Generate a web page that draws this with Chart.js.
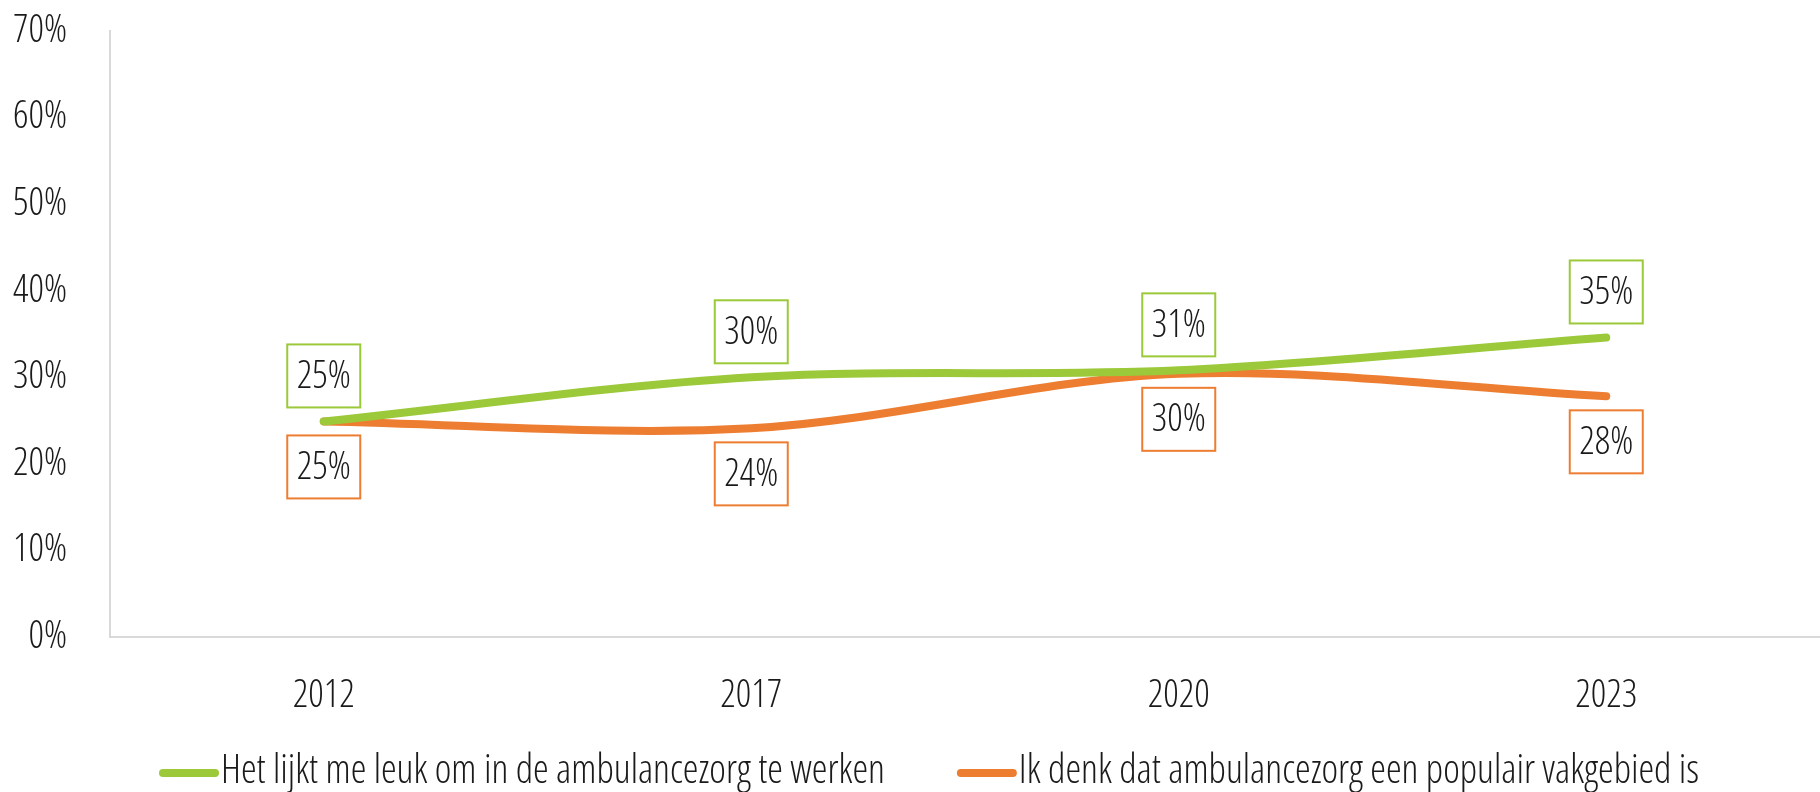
<!DOCTYPE html>
<html>
<head>
<meta charset="utf-8">
<script src="https://cdn.jsdelivr.net/npm/chart.js@4"></script>
<style>
    body { margin: 0; background: #fff; }
    .chart-box { width: 1820px; height: 792px; }
</style>
</head>
<body>
<div class="chart-box"><canvas id="myChart"></canvas></div>
<script>
const years = ['2012', '2017', '2020', '2023'];
const leukValues = [24.9, 30.0, 30.8, 34.6];
const populairValues = [24.9, 24.1, 30.4, 27.8];
const seriesNames = [
    'Het lijkt me leuk om in de ambulancezorg te werken',
    'Ik denk dat ambulancezorg een populair vakgebied is',
];
const yTicks = [0, 10, 20, 30, 40, 50, 60, 70];

const green = '#9bc93a';
const orange = '#ed7d31';
const fontFamily = '"Open Sans"';
const fontWeight = 'condensed 300';
const fontSize = 38;
const fontString = fontWeight + ' ' + fontSize + 'px ' + fontFamily;
const legendFont = fontWeight + ' 39.6px ' + fontFamily;

// boxed value labels, green above the line, orange below
const valueBoxes = {
    id: 'valueBoxes',
    afterDatasetsDraw(chart) {
        const ctx = chart.ctx;
        const w = 73, h = 63, gap = 14;
        ctx.save();
        ctx.font = fontString;
        ctx.textAlign = 'center';
        ctx.textBaseline = 'middle';
        chart.data.datasets.forEach((ds, i) => {
            const meta = chart.getDatasetMeta(i);
            meta.data.forEach((pt, j) => {
                const top = ds.labelSide === 'above' ? pt.y - gap - h : pt.y + gap;
                const left = pt.x - w / 2;
                ctx.fillStyle = '#fff';
                ctx.fillRect(left, top, w, h);
                ctx.strokeStyle = ds.borderColor;
                ctx.lineWidth = 2;
                ctx.strokeRect(left, top, w, h);
                ctx.fillStyle = '#1a1a1a';
                ctx.fillText(Math.round(ds.data[j]) + '%', pt.x, top + h / 2 + 1);
            });
        });
        ctx.restore();
    }
};

// legend with long rounded line markers
const lineLegend = {
    id: 'lineLegend',
    afterDraw(chart) {
        const ctx = chart.ctx;
        const lineLen = 60, textGap = 2, itemGap = 72, y = 772;
        let x = 159;
        ctx.save();
        ctx.font = legendFont;
        chart.data.datasets.forEach(ds => {
            ctx.strokeStyle = ds.borderColor;
            ctx.lineWidth = 8;
            ctx.lineCap = 'round';
            ctx.beginPath();
            ctx.moveTo(x + 4, y + 1);
            ctx.lineTo(x + lineLen - 4, y + 1);
            ctx.stroke();
            ctx.fillStyle = '#1a1a1a';
            ctx.textAlign = 'left';
            ctx.textBaseline = 'middle';
            ctx.fillText(ds.label, x + lineLen + textGap, y);
            x += lineLen + textGap + ctx.measureText(ds.label).width + itemGap;
        });
        ctx.restore();
    }
};

const data = {
    labels: years,
    datasets: [{
        label: seriesNames[0],
        data: leukValues,
        borderColor: green,
        backgroundColor: green,
        labelSide: 'above',
    },
        {
            label: seriesNames[1],
            data: populairValues,
            borderColor: orange,
            backgroundColor: orange,
            labelSide: 'below',
        }
    ]
};

const config = {
    type: 'line',
    data: data,
    options: {
        responsive: true,
        maintainAspectRatio: false,
        animation: false,
        layout: {
            autoPadding: false,
            // plot area runs a little past the right edge, like the original
            padding: {top: 31, right: -11, bottom: 72, left: 0}
        },
        elements: {
            line: {
                borderWidth: 8,
                borderCapStyle: 'round',
                borderJoinStyle: 'round',
                tension: 0.33,
                fill: false,
            },
            point: {
                radius: 0,
                hoverRadius: 0,
            }
        },
        scales: {
            x: {
                offset: true,
                grid: {
                    display: false,
                    drawTicks: false,
                },
                border: {
                    display: true,
                    color: '#d9d9d9',
                    width: 2,
                },
                ticks: {
                    color: '#1a1a1a',
                    padding: 36,
                    font: {family: fontFamily, weight: fontWeight, size: fontSize},
                },
                afterFit(scale) {
                    scale.height = 83;
                }
            },
            y: {
                min: 0,
                max: 70,
                afterBuildTicks(scale) {
                    scale.ticks = yTicks.map(v => ({value: v}));
                },
                grid: {
                    display: false,
                    drawTicks: false,
                },
                border: {
                    display: true,
                    color: '#d9d9d9',
                    width: 2,
                },
                ticks: {
                    color: '#1a1a1a',
                    padding: 43,
                    font: {family: fontFamily, weight: fontWeight, size: fontSize},
                    callback: (v) => v + '%',
                },
                afterFit(scale) {
                    // tick padding is only wanted sideways, not above the top label
                    scale.width = 110;
                    scale.paddingTop = 0;
                    scale.paddingBottom = 0;
                }
            }
        },
        plugins: {
            legend: {display: false},
            tooltip: {enabled: false},
        }
    },
    plugins: [valueBoxes, lineLegend]
};

const myChart = new Chart(
    document.getElementById('myChart'),
    config
);
</script>
</body>
</html>
